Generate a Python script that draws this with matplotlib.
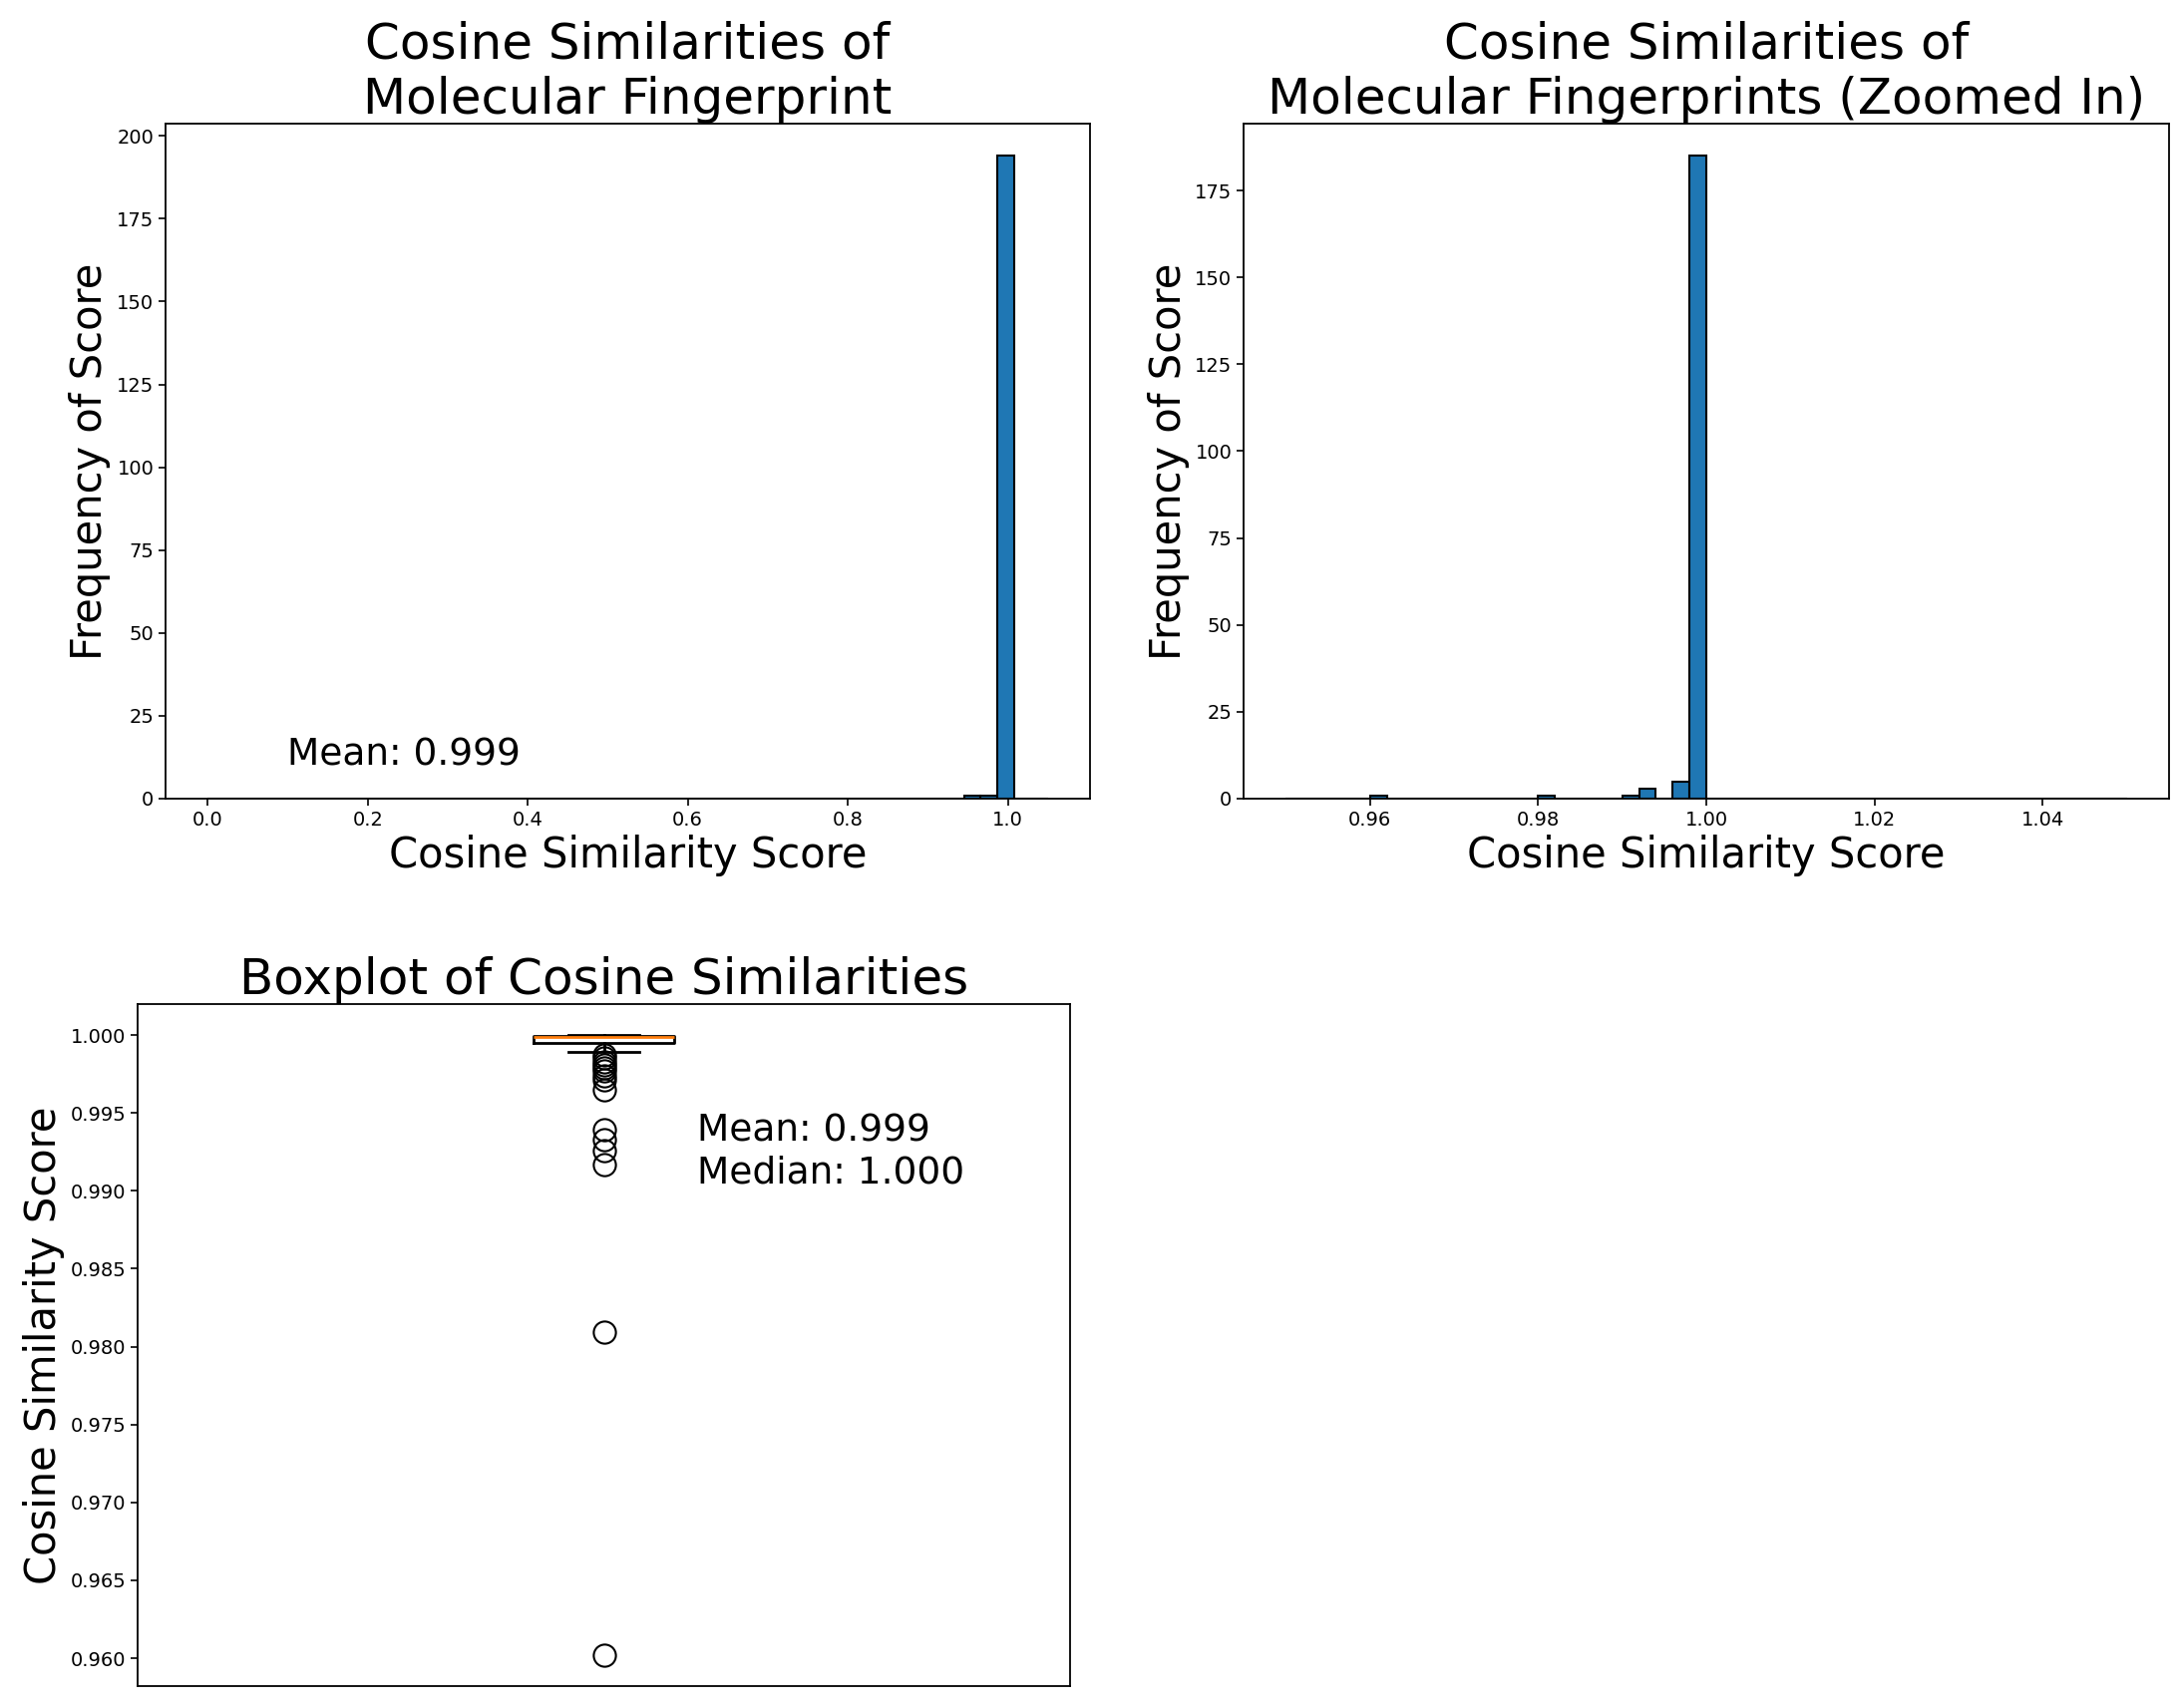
import numpy as np
import matplotlib
matplotlib.use("Agg")
import matplotlib.pyplot as plt

# cosine similarity scores as (value, count) pairs
low_scores = [0.9602, 0.9809, 0.9917, 0.9926, 0.9933, 0.9939,
              0.9965, 0.9971, 0.9974, 0.9977, 0.9979]
main_values = [0.9981, 0.9983, 0.9985, 0.9987, 0.9989, 0.9991, 0.9993,
               0.9994, 0.9995, 0.9996, 0.9997, 0.9998, 0.9999, 0.99995, 0.99999]
main_counts = [1, 1, 1, 1, 2, 3, 5, 10, 17, 8, 10, 12, 25, 40, 49]

scores = np.concatenate([low_scores, np.repeat(main_values, main_counts)])
mean_score = np.mean(scores)
median_score = np.median(scores)

title_size = 36
label_size = 30
tick_size = 14
note_size = 27

plt.rcParams["axes.linewidth"] = 1.3
plt.rcParams["xtick.major.size"] = 5
plt.rcParams["ytick.major.size"] = 5
plt.rcParams["xtick.major.width"] = 1.2
plt.rcParams["ytick.major.width"] = 1.2

fig = plt.figure(figsize=(21.88, 17.13), dpi=100)

# full range histogram
ax1 = fig.add_axes([0.0759, 0.5324, 0.4236, 0.3952])
ax1.hist(scores, bins=50, range=(0, 1.05), color="#1f77b4", edgecolor="black", linewidth=1.5)
ax1.set_title("Cosine Similarities of\nMolecular Fingerprint", fontsize=title_size)
ax1.set_xlabel("Cosine Similarity Score", fontsize=label_size)
ax1.set_ylabel("Frequency of Score", fontsize=label_size)
ax1.text(0.1, 10, f"Mean: {mean_score:.3f}", fontsize=note_size)
ax1.tick_params(labelsize=tick_size)

# zoomed histogram
ax2 = fig.add_axes([0.570, 0.5324, 0.424, 0.3952])
ax2.hist(scores, bins=50, range=(0.95, 1.05), color="#1f77b4", edgecolor="black", linewidth=1.5)
ax2.set_title("Cosine Similarities of\nMolecular Fingerprints (Zoomed In)", fontsize=title_size)
ax2.set_xlabel("Cosine Similarity Score", fontsize=label_size)
ax2.set_ylabel("Frequency of Score", fontsize=label_size)
ax2.tick_params(labelsize=tick_size)

# boxplot
ax3 = fig.add_axes([0.0631, 0.0128, 0.4273, 0.3993])
ax3.boxplot(scores, widths=0.15,
            boxprops=dict(linewidth=2),
            whiskerprops=dict(linewidth=2),
            capprops=dict(linewidth=2),
            medianprops=dict(color="#ff7f0e", linewidth=2),
            flierprops=dict(marker="o", markersize=16, markerfacecolor="none",
                            markeredgecolor="black", markeredgewidth=1.5))
ax3.set_title("Boxplot of Cosine Similarities", fontsize=title_size)
ax3.set_ylabel("Cosine Similarity Score", fontsize=label_size)
ax3.set_xticks([])
ax3.tick_params(labelsize=tick_size)
ax3.text(1.1, 0.9925, f"Mean: {mean_score:.3f}\nMedian: {median_score:.3f}",
         fontsize=note_size, va="center")

fig.savefig("out.png", dpi=100)
